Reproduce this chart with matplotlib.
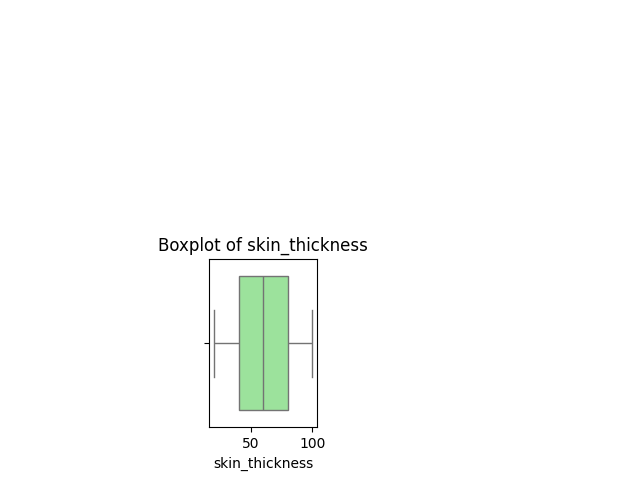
import matplotlib
matplotlib.use("Agg")
import matplotlib.pyplot as plt
import pandas as pd
import seaborn as sns

# five-number summary: whiskers 20 / 100, box 40-80, median 60
skin_thickness = [20, 40, 60, 80, 100]

df = pd.DataFrame({"skin_thickness": skin_thickness})

fig = plt.figure(figsize=(6.4, 4.8), dpi=100)

# grid of 2x4 boxplots, only this one remains in the picture
plt.subplot(2, 4, 6)
sns.boxplot(x=df["skin_thickness"], color="lightgreen")
plt.title("Boxplot of skin_thickness")

plt.savefig("out.png")
